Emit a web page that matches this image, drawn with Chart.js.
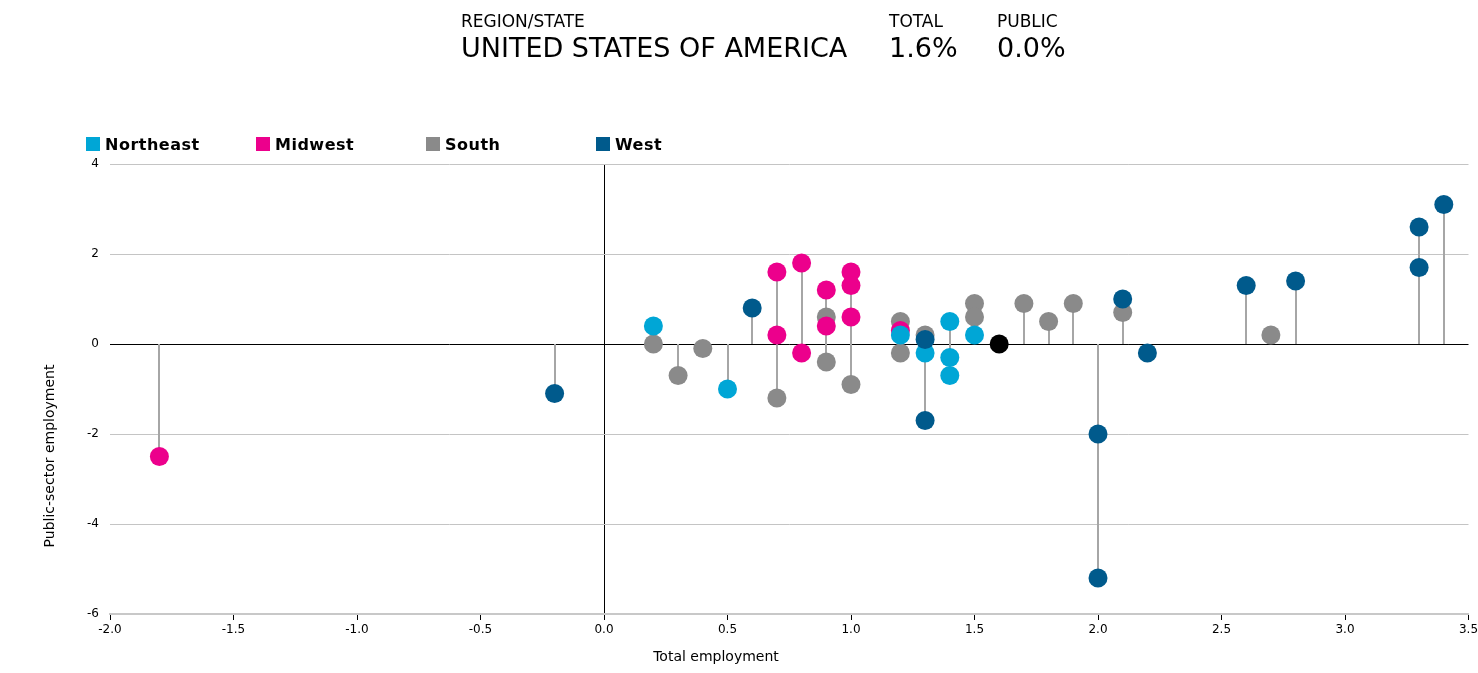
<!DOCTYPE html>
<html lang="en">
<head>
  <meta charset="UTF-8" />
  <title>Public-sector vs total employment</title>
  <script src="https://cdn.jsdelivr.net/npm/chart.js"></script>
  <style>
    body { margin: 0; background: #fff; font-family: "DejaVu Sans", sans-serif; color: #000; }
    .wrap { position: relative; width: 1478px; height: 673px; overflow: hidden; }
    canvas { position: absolute; left: 0; top: 0; }
    .head { position: absolute; top: 11px; font-size: 17px; }
    .big { position: absolute; top: 32px; font-size: 27px; }
    .legend { position: absolute; top: 135px; font-size: 16px; font-weight: bold; letter-spacing: 0.5px; white-space: nowrap; }
    .legend span.sw { display: inline-block; width: 14px; height: 14px; vertical-align: -1px; margin-right: 5px; }
  </style>
</head>
<body>
  <div class="wrap">
    <canvas id="grafico" width="1478" height="673"></canvas>
    <div class="head" style="left:461px">REGION/STATE</div>
    <div class="head" style="left:889px">TOTAL</div>
    <div class="head" style="left:997px">PUBLIC</div>
    <div class="big" style="left:461px">UNITED STATES OF AMERICA</div>
    <div class="big" style="left:889px">1.6%</div>
    <div class="big" style="left:997px">0.0%</div>
    <div id="legenda"></div>
  </div>

  <script>
    // region colours
    const regioes = ['Northeast', 'Midwest', 'South', 'West'];
    const cores = { Northeast: '#00a6d6', Midwest: '#ec008c', South: '#8a8a8a', West: '#005a8c', US: '#000000' };

    // [total employment %, public-sector %]
    const northeast = [[0.2, 0.4], [0.5, -1.0], [1.2, 0.2], [1.3, -0.2], [1.4, 0.5], [1.4, -0.3], [1.4, -0.7], [1.5, 0.2]];
    const midwest = [[-1.8, -2.5], [0.7, 1.6], [0.7, 0.2], [0.8, 1.8], [0.8, -0.2], [0.9, 1.2], [0.9, 0.4],
                     [1.0, 1.6], [1.0, 1.3], [1.0, 0.6], [1.2, 0.3]];
    const south = [[0.2, 0.0], [0.3, -0.7], [0.4, -0.1], [0.7, -1.2], [0.9, 0.6], [0.9, -0.4], [1.0, -0.9],
                   [1.2, 0.5], [1.2, -0.2], [1.3, 0.2], [1.5, 0.9], [1.5, 0.6], [1.7, 0.9], [1.8, 0.5],
                   [1.9, 0.9], [2.1, 0.7], [2.7, 0.2]];
    const west = [[-0.2, -1.1], [0.6, 0.8], [1.3, 0.1], [1.3, -1.7], [2.0, -2.0], [2.0, -5.2], [2.1, 1.0],
                  [2.2, -0.2], [2.6, 1.3], [2.8, 1.4], [3.3, 2.6], [3.3, 1.7], [3.4, 3.1]];
    const usa = [[1.6, 0.0]];

    const pontos = arr => arr.map(([x, y]) => ({ x, y }));

    // legend
    const leg = document.getElementById('legenda');
    regioes.forEach((r, i) => {
      const d = document.createElement('div');
      d.className = 'legend';
      d.style.left = (86 + i * 170) + 'px';
      d.innerHTML = `<span class="sw" style="background:${cores[r]}"></span>${r}`;
      leg.appendChild(d);
    });

    // vertical stems from 0 to each point
    const hastes = {
      id: 'hastes',
      beforeDatasetsDraw(chart) {
        const { ctx, scales: { x, y } } = chart;
        ctx.save();
        ctx.strokeStyle = '#a6a6a6';
        ctx.lineWidth = 2;
        chart.data.datasets.forEach(ds => {
          ds.data.forEach(p => {
            const px = Math.round(x.getPixelForValue(p.x));
            ctx.beginPath();
            ctx.moveTo(px, y.getPixelForValue(0));
            ctx.lineTo(px, y.getPixelForValue(p.y));
            ctx.stroke();
          });
        });
        ctx.restore();
      }
    };

    // axis titles placed like the original
    const titulos = {
      id: 'titulos',
      afterDraw(chart) {
        const { ctx } = chart;
        ctx.save();
        ctx.fillStyle = '#000';
        ctx.font = '14px "DejaVu Sans"';
        ctx.textAlign = 'center';
        ctx.textBaseline = 'middle';
        ctx.fillText('Total employment', 716, 657);
        ctx.translate(50, 456);
        ctx.rotate(-Math.PI / 2);
        ctx.fillText('Public-sector employment', 0, 0);
        ctx.restore();
      }
    };

    const ds = (label, data, order) => ({
      label, data: pontos(data), order,
      backgroundColor: cores[label], borderWidth: 0,
      pointRadius: 9.5, pointHoverRadius: 9.5
    });

    new Chart(document.getElementById('grafico'), {
      type: 'scatter',
      data: {
        datasets: [
          ds('US', usa, 0),
          ds('West', west, 1),
          ds('Northeast', northeast, 2),
          ds('Midwest', midwest, 3),
          ds('South', south, 4)
        ]
      },
      options: {
        responsive: false,
        animation: false,
        events: [],
        layout: { padding: { top: 164, left: 0, right: 3, bottom: 0 } },
        plugins: { legend: { display: false }, tooltip: { enabled: false } },
        scales: {
          x: {
            min: -2, max: 3.5,
            afterFit: s => { s.height = 59; s.paddingLeft = 0; s.paddingRight = 0; },
            ticks: { stepSize: 0.5, color: '#000', font: { family: 'DejaVu Sans', size: 12 },
                     padding: 3, maxRotation: 0, callback: v => v.toFixed(1) },
            grid: {
              color: c => (c.tick && c.tick.value === 0 ? '#000' : 'rgba(0,0,0,0)'),
              tickColor: '#000', tickLength: 6, lineWidth: 1
            },
            border: { display: true, color: '#c8c8c8', width: 2 }
          },
          y: {
            min: -6, max: 4,
            afterFit: s => { s.width = 110; s.paddingTop = 0; s.paddingBottom = 0; },
            ticks: { stepSize: 2, color: '#000', font: { family: 'DejaVu Sans', size: 12 }, padding: 11 },
            grid: {
              color: c => (c.tick && c.tick.value === 0 ? '#000' : '#c4c4c4'),
              drawTicks: false, lineWidth: 1
            },
            border: { display: false }
          }
        }
      },
      plugins: [hastes, titulos]
    });
  </script>
</body>
</html>
